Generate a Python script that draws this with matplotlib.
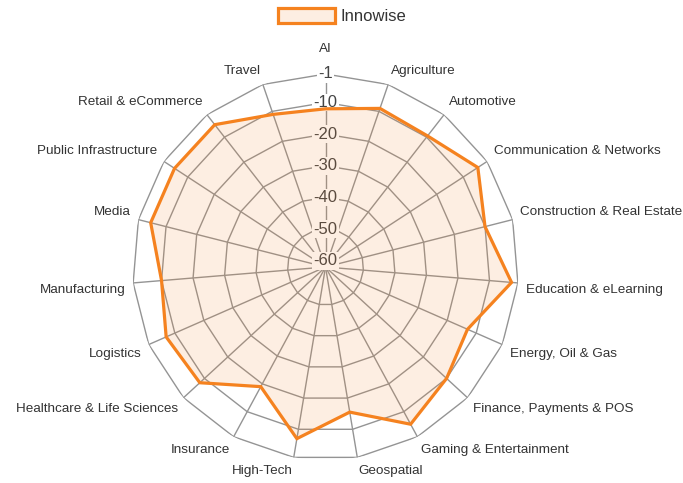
import numpy as np
import matplotlib
matplotlib.use('Agg')
import matplotlib.pyplot as plt

categories = ["AI", "Agriculture", "Automotive", "Communication & Networks",
              "Construction & Real Estate", "Education & eLearning", "Energy, Oil & Gas",
              "Finance, Payments & POS", "Gaming & Entertainment", "Geospatial", "High-Tech",
              "Insurance", "Healthcare & Life Sciences", "Logistics", "Manufacturing", "Media",
              "Public Infrastructure", "Retail & eCommerce", "Travel"]
values = [-12, -9, -9.5, -4.5, -10, -3, -13, -10, -5.5, -15.5, -7, -19, -8, -7,
          -10, -5, -5, -5, -11]
series_name = "Innowise"
tick_values = [-1, -10, -20, -30, -40, -50, -60]
r_min, r_max = -62, -1

plt.rcParams['font.family'] = ['Liberation Sans', 'DejaVu Sans']

fig = plt.figure(figsize=(6.83, 4.83), dpi=100)
ax = fig.add_axes([0.194, 0.0476, 0.5652, 0.7992], projection='polar')
ax.set_theta_zero_location('N')
ax.set_theta_direction(-1)
ax.set_ylim(r_min, r_max)
ax.set_xticks([])
ax.set_yticks([])
ax.grid(False)
ax.spines['polar'].set_visible(False)
ax.patch.set_visible(False)

N = len(categories)
theta = np.arange(N) * 2 * np.pi / N
theta_c = np.append(theta, theta[0])

grid_color = '#949494'
for v in tick_values:
    if v > -60:
        ax.plot(theta_c, [v] * (N + 1), color=grid_color, lw=1.0, zorder=1)
for t in theta:
    ax.plot([t, t], [r_min, r_max], color=grid_color, lw=1.0, zorder=1)

for v in tick_values:
    ax.text(0, v, str(v), ha='center', va='center', fontsize=12, color='#444444',
            zorder=1.5,
            bbox=dict(boxstyle='square,pad=0.08', fc='white', ec='none'))

vals_c = np.append(values, values[0])
ax.fill(theta_c, vals_c, facecolor=(0.96, 0.49, 0.12, 0.13), edgecolor='#F5821F',
        lw=2.3, joinstyle='miter', zorder=2, label=series_name)

r_lab = r_max + 2.5
for t, name in zip(theta, categories):
    deg = np.degrees(t)
    if np.isclose(deg, 0) or np.isclose(deg, 180):
        ha = 'center'
    elif deg < 180:
        ha = 'left'
    else:
        ha = 'right'
    if deg < 90 or deg > 270:
        va = 'bottom'
    elif np.isclose(deg, 90) or np.isclose(deg, 270):
        va = 'center'
    else:
        va = 'top'
    off = 8 if np.isclose(deg, 0) else 0
    ax.annotate(name, xy=(t, r_lab), xytext=(0, off), textcoords='offset points',
                ha=ha, va=va, fontsize=9.7, color='#333333', annotation_clip=False)

fig.legend(loc='center', bbox_to_anchor=(342 / 683, 1 - 16 / 483), frameon=False,
           fontsize=12, handlelength=3.4, handleheight=1.05, handletextpad=0.35,
           labelcolor='#333333')

fig.savefig('out.png', dpi=100)
